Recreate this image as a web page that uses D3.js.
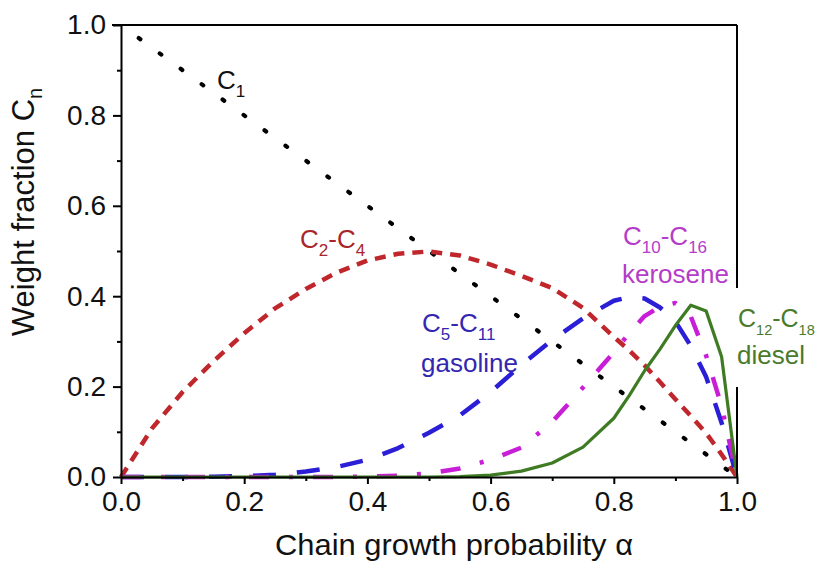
<!DOCTYPE html>
<html>
<head>
<meta charset="utf-8">
<script src="https://cdn.jsdelivr.net/npm/d3@7"></script>
<style>
  html, body { margin: 0; padding: 0; background: #fff; }
  svg { display: block; }
  text { font-family: "Liberation Sans", Arial, Helvetica, sans-serif; }
</style>
</head>
<body>
<svg id="chart" width="819" height="562"></svg>
<script>
// ---- data ----
const xTicksMajor = [0, 0.2, 0.4, 0.6, 0.8, 1.0];
const xTicksMinor = [0.1, 0.3, 0.5, 0.7, 0.9];
const yTicksMajor = [0, 0.2, 0.4, 0.6, 0.8, 1.0];
const yTicksMinor = [0.1, 0.3, 0.5, 0.7, 0.9];

const alphaC1 = [0, 0.25, 0.5, 0.75, 1.0];
const c1      = [1.0, 0.75, 0.5, 0.25, 0];

const alphaGrid = [0, 0.05, 0.1, 0.15, 0.2, 0.25, 0.3, 0.35, 0.4, 0.45, 0.5, 0.55, 0.6,
                   0.65, 0.7, 0.75, 0.8, 0.825, 0.85, 0.875, 0.9, 0.925, 0.95, 0.975, 1.0];
const c2c4   = [0, 0.107, 0.188, 0.256, 0.318, 0.373, 0.416, 0.452, 0.479, 0.494, 0.499, 0.490, 0.470,
                0.445, 0.418, 0.374, 0.310, 0.280, 0.247, 0.210, 0.172, 0.135, 0.097, 0.050, 0];
const c5c11  = [0, 0, 0, 0.0005, 0.002, 0.005, 0.012, 0.022, 0.038, 0.064, 0.098, 0.136, 0.188,
                0.248, 0.303, 0.351, 0.390, 0.398, 0.395, 0.375, 0.344, 0.290, 0.221, 0.120, 0];
const c10c16 = [0, 0, 0, 0, 0, 0, 0, 0, 0.001, 0.003, 0.008, 0.019, 0.038,
                0.065, 0.122, 0.198, 0.276, 0.318, 0.356, 0.377, 0.385, 0.355, 0.268, 0.157, 0];
const c12c18 = [0, 0, 0, 0, 0, 0, 0, 0, 0, 0, 0, 0.001, 0.004,
                0.013, 0.031, 0.066, 0.130, 0.180, 0.235, 0.283, 0.335, 0.380, 0.367, 0.266, 0];

const xTitle = "Chain growth probability \u03b1";

// ---- layout ----
const W = 819, H = 562;
const margin = {left: 121, right: 82, top: 25, bottom: 85};
const svg = d3.select("#chart");
const x = d3.scaleLinear().domain([0, 1]).range([margin.left, W - margin.right]);
const y = d3.scaleLinear().domain([0, 1]).range([H - margin.bottom, margin.top]);

const series = [
  {name: "C1",     xs: alphaC1,  ys: c1,     color: "#000000", width: 4.2, dash: "2,24", cap: "round"},
  {name: "C2-C4",  xs: alphaGrid, ys: c2c4,  color: "#c0272d", width: 4.5, dash: "11,8", cap: "butt"},
  {name: "C5-C11", xs: alphaGrid, ys: c5c11, color: "#2a1ed6", width: 4.5, dash: "23,21", cap: "butt"},
  {name: "C10-C16",xs: alphaGrid, ys: c10c16,color: "#c81ed8", width: 4.5, dash: "20,20,4,20", cap: "butt"},
  {name: "C12-C18",xs: alphaGrid, ys: c12c18,color: "#3e7b23", width: 3.2, dash: null, cap: "butt"}
];

const line = d3.line().x(d => x(d[0])).y(d => y(d[1])).curve(d3.curveLinear);

const gLines = svg.append("g");
series.forEach(s => {
  const pts = s.xs.map((a, i) => [a, s.ys[i]]);
  gLines.append("path")
    .attr("d", line(pts))
    .attr("fill", "none")
    .attr("stroke", s.color)
    .attr("stroke-width", s.width)
    .attr("stroke-linecap", s.cap)
    .attr("stroke-linejoin", "round")
    .attr("stroke-dasharray", s.dash)
    .attr("stroke-dashoffset", s.name === "C1" ? -22 : 0);
});

// ---- frame ----
const frame = svg.append("g").attr("stroke", "#000").attr("stroke-width", 2).attr("fill", "none");
frame.append("line").attr("x1", x(0) - 9).attr("x2", x(1)).attr("y1", y(1)).attr("y2", y(1));
frame.append("line").attr("x1", x(1)).attr("x2", x(1)).attr("y1", y(1)).attr("y2", y(0));

// ---- axes ----
const axisFont = 28;
svg.append("g").attr("transform", `translate(0,${y(0)})`)
  .call(d3.axisBottom(x).tickValues(xTicksMajor).tickFormat(d3.format(".1f")).tickSize(7).tickPadding(7).tickSizeOuter(0));
svg.append("g").attr("transform", `translate(0,${y(0)})`)
  .call(d3.axisBottom(x).tickValues(xTicksMinor).tickFormat("").tickSize(4).tickSizeOuter(0))
  .select(".domain").remove();
svg.append("g").attr("transform", `translate(${x(0)},0)`)
  .call(d3.axisLeft(y).tickValues(yTicksMajor).tickFormat(d3.format(".1f")).tickSize(8).tickPadding(7).tickSizeOuter(0));
svg.append("g").attr("transform", `translate(${x(0)},0)`)
  .call(d3.axisLeft(y).tickValues(yTicksMinor).tickFormat("").tickSize(4).tickSizeOuter(0))
  .select(".domain").remove();

svg.selectAll(".domain").attr("stroke-width", 2);
svg.selectAll(".tick line").attr("stroke-width", 2);
svg.selectAll(".tick text").attr("font-size", axisFont).attr("fill", "#111")
   .attr("font-family", "'Liberation Sans', Arial, sans-serif");

// ---- axis titles ----
svg.append("text")
  .attr("x", (x(0) + x(1)) / 2 + 25).attr("y", 555)
  .attr("text-anchor", "middle").attr("font-size", 29).attr("fill", "#111")
  .attr("textLength", 358).attr("lengthAdjust", "spacingAndGlyphs")
  .text(xTitle);

const yt = svg.append("text")
  .attr("transform", "translate(34,212) rotate(-90)")
  .attr("text-anchor", "middle").attr("font-size", 31).attr("fill", "#111");
yt.append("tspan").text("Weight fraction C");
yt.append("tspan").attr("font-size", 20).attr("dy", 8).text("n");

// ---- curve labels ----
function label(px, py, parts, color, fs, sfs) {
  const t = svg.append("text").attr("x", px).attr("y", py).attr("font-size", fs).attr("fill", color);
  let sub = false;
  parts.forEach(p => {
    const isSub = !!p.sub;
    const sp = t.append("tspan").text(p.t);
    if (isSub) { sp.attr("font-size", sfs); }
    if (isSub !== sub) { sp.attr("dy", isSub ? 8 : -8); sub = isSub; }
  });
  return t;
}
const CSub = (a, b) => [{t: "C"}, {t: a, sub: true}, {t: "-C"}, {t: b, sub: true}];

const LF = 26, SF = 17;
label(217, 89, [{t: "C"}, {t: "1", sub: true}], "#111", LF, SF);
label(300, 248, CSub("2", "4"), "#a8262b", LF, SF);
label(422, 332, CSub("5", "11"), "#3327b2", LF, SF);
svg.append("text").attr("x", 421).attr("y", 372).attr("font-size", LF).attr("fill", "#3327b2").text("gasoline");
label(623, 245, CSub("10", "16"), "#b43cc8", LF, SF);
svg.append("text").attr("x", 622).attr("y", 283).attr("font-size", LF).attr("fill", "#b43cc8").text("kerosene");

// diesel label with white background covering the right frame
svg.append("rect").attr("x", x(1) - 4).attr("y", 288).attr("width", 90).attr("height", 99).attr("fill", "#fff");
label(738, 327, CSub("12", "18"), "#4a7a2c", 25, 14.5);
svg.append("text").attr("x", 737).attr("y", 364).attr("font-size", LF).attr("fill", "#4a7a2c").text("diesel");
</script>
</body>
</html>
